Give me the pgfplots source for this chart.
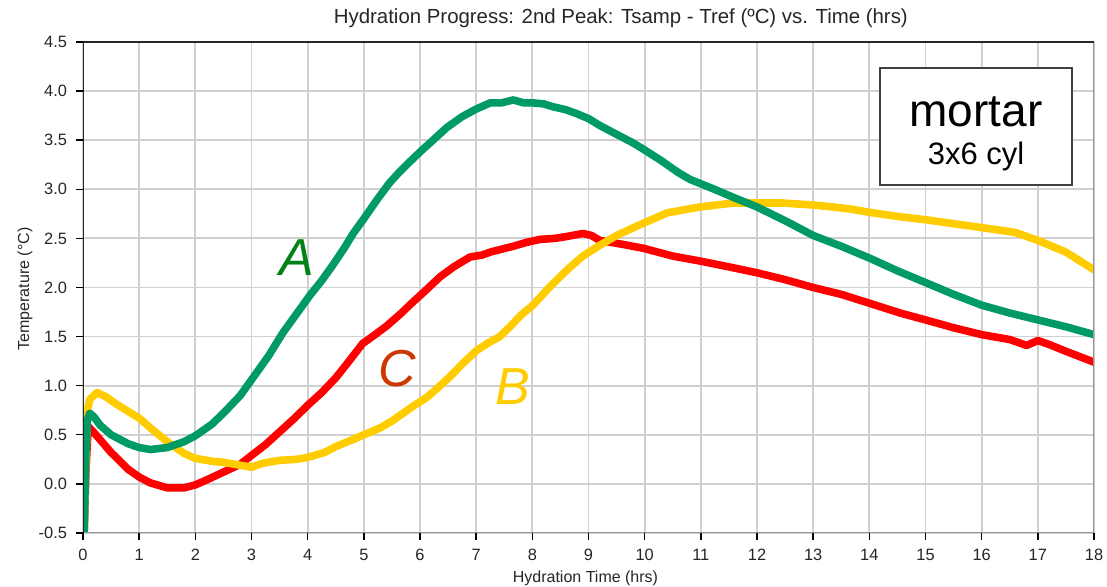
\documentclass[border=0pt]{standalone}
\usepackage{pgfplots}
\pgfplotsset{compat=1.18}
\usetikzlibrary{calc}
\usepackage{fontspec}
\setmainfont{Liberation Sans}

\definecolor{lineA}{RGB}{0,155,100}
\definecolor{lineB}{RGB}{255,204,0}
\definecolor{lineC}{RGB}{255,0,0}
\definecolor{labA}{RGB}{0,130,20}
\definecolor{labC}{RGB}{205,55,0}
\definecolor{gridgray}{RGB}{208,208,208}
\definecolor{framegray}{RGB}{150,150,150}

\begin{document}
\begin{tikzpicture}
\path[use as bounding box] (-41.5pt,-27pt) rectangle (512pt,266.5pt);
\begin{axis}[
  name=ax,
  scale only axis,
  width=505.5pt, height=245.5pt,
  xmin=0, xmax=18, ymin=-0.5, ymax=4.5,
  xtick={0,1,...,18},
  ytick={-0.5,0,0.5,...,4.5},
  /pgf/number format/assume math mode=true,
  yticklabel style={xshift=-1pt, /pgf/number format/fixed, /pgf/number format/fixed zerofill, /pgf/number format/precision=1},
  xticklabel style={yshift=-1pt},
  tick label style={font=\fontsize{8.2}{9}\selectfont, text=black!85},
  tick align=outside, tick pos=left,
  major tick length=3.5pt,
  tick style={black, line width=0.7pt},
  grid=major,
  major grid style={gridgray, line width=0.9pt},
  axis line style={draw=none},
  clip=true,
  xlabel={Hydration Time (hrs)},
  ylabel={Temperature (°C)},
  label style={font=\fontsize{8}{9}\selectfont, text=black!85},
  xlabel style={at={(axis description cs:0.497,-0.0916)}, anchor=center},
  ylabel style={at={(axis description cs:-0.0574,0.497)}, anchor=center, rotate=0},
  every axis plot/.append style={line width=3.8pt, line join=round, line cap=round},
]
% C
\addplot[lineC] coordinates {
(0.02,-0.5) (0.05,0.1) (0.08,0.45) (0.1,0.58) (0.2,0.52) (0.5,0.32) (0.8,0.15)
(1.0,0.07) (1.2,0.01) (1.5,-0.04) (1.8,-0.04) (2.0,-0.01) (2.2,0.04) (2.5,0.12)
(2.8,0.20) (3.0,0.29) (3.25,0.40) (3.5,0.53) (3.75,0.66) (4.0,0.80) (4.25,0.93)
(4.5,1.08) (4.75,1.26) (4.98,1.43) (5.2,1.52) (5.41,1.61) (5.65,1.73) (5.87,1.85)
(6.1,1.97) (6.36,2.11) (6.6,2.21) (6.89,2.31) (7.1,2.33) (7.25,2.36) (7.45,2.39)
(7.66,2.42) (7.9,2.46) (8.14,2.49) (8.4,2.50) (8.62,2.52) (8.9,2.55) (9.05,2.53)
(9.2,2.48) (9.6,2.44) (9.97,2.40) (10.5,2.32) (10.98,2.27) (11.5,2.21) (12.0,2.15)
(12.5,2.08) (13.0,2.00) (13.5,1.93) (14.0,1.84) (14.55,1.74) (15.0,1.67) (15.5,1.59)
(16.0,1.52) (16.5,1.47) (16.8,1.41) (17.0,1.46) (17.2,1.42) (17.5,1.35) (18.0,1.24)
};
% B
\addplot[lineB] coordinates {
(0.02,-0.5) (0.05,0.2) (0.08,0.75) (0.12,0.86) (0.25,0.93) (0.4,0.89) (0.6,0.81)
(0.8,0.74) (1.0,0.67) (1.2,0.57) (1.5,0.43) (1.8,0.31) (2.0,0.26) (2.3,0.23)
(2.5,0.22) (2.8,0.19) (3.0,0.17) (3.2,0.21) (3.5,0.24) (3.8,0.25) (4.0,0.27)
(4.3,0.32) (4.5,0.38) (4.8,0.45) (5.0,0.50) (5.29,0.57) (5.5,0.64) (5.7,0.72)
(5.9,0.80) (6.12,0.88) (6.3,0.97) (6.53,1.09) (6.75,1.22) (7.01,1.36) (7.2,1.43)
(7.42,1.50) (7.6,1.60) (7.8,1.72) (8.01,1.82) (8.3,2.00) (8.62,2.18) (8.9,2.32)
(9.2,2.43) (9.5,2.53) (9.92,2.64) (10.4,2.76) (10.98,2.82) (11.57,2.86) (12.0,2.86)
(12.46,2.86) (13.0,2.84) (13.35,2.82) (13.65,2.80) (14.06,2.76) (14.55,2.72)
(15.0,2.69) (15.5,2.65) (16.0,2.61) (16.6,2.56) (17.0,2.48) (17.5,2.36) (18.0,2.18)
};
% A
\addplot[lineA] coordinates {
(0.02,-0.5) (0.05,0.3) (0.08,0.65) (0.12,0.72) (0.2,0.68) (0.3,0.60) (0.5,0.50)
(0.8,0.41) (1.0,0.37) (1.2,0.35) (1.5,0.37) (1.8,0.43) (2.0,0.49) (2.3,0.61)
(2.5,0.72) (2.8,0.90) (3.0,1.06) (3.3,1.30) (3.56,1.54) (3.8,1.73) (4.04,1.92)
(4.25,2.07) (4.45,2.23) (4.65,2.40) (4.81,2.55) (5.0,2.70) (5.23,2.89) (5.45,3.06)
(5.64,3.18) (5.8,3.27) (6.0,3.38) (6.25,3.51) (6.48,3.63) (6.75,3.74) (7.01,3.82)
(7.25,3.88) (7.45,3.88) (7.66,3.91) (7.85,3.88) (8.01,3.88) (8.2,3.87) (8.37,3.84)
(8.6,3.81) (8.79,3.77) (9.0,3.72) (9.2,3.65) (9.5,3.56) (9.8,3.47) (10.0,3.40)
(10.3,3.29) (10.6,3.17) (10.81,3.10) (11.2,3.01) (11.57,2.92) (12.0,2.82) (12.5,2.68)
(13.0,2.53) (13.5,2.42) (14.0,2.30) (14.5,2.17) (15.0,2.05) (15.5,1.93) (16.0,1.82)
(16.5,1.74) (17.0,1.67) (17.5,1.60) (18.0,1.52)
};
% frame: dark top/left, grey bottom/right
\draw[framegray, line width=1pt] (rel axis cs:0,0) -- (rel axis cs:1,0) -- (rel axis cs:1,1);
\draw[black!85, line width=1pt] (rel axis cs:0,0) -- (rel axis cs:0,1) -- (rel axis cs:1,1);
% curve labels
\node[font=\fontsize{26}{28}\selectfont\itshape, text=labA] at (axis cs:3.8,2.3) {A};
\node[font=\fontsize{26}{28}\selectfont\itshape, text=labC] at (axis cs:5.6,1.17) {C};
\node[font=\fontsize{26}{28}\selectfont\itshape, text=lineB] at (axis cs:7.65,0.99) {B};
\end{axis}
% title
\node[font=\fontsize{10.2}{12}\selectfont, text=black!85] at ($(ax.north west)!0.532!(ax.north east)+(0,12pt)$) {Hydration Progress: 2nd Peak: Tsamp - Tref (ºC) vs. Time (hrs)};
% sample box
\node[draw=black!75, line width=0.6pt, fill=white, minimum width=96pt, minimum height=58.5pt, inner sep=0pt]
  (box) at ($(ax.south west)+(446.5pt,203.25pt)$) {};
\node[font=\fontsize{23}{25}\selectfont] at ($(box.center)+(0,7.3pt)$) {mortar};
\node[font=\fontsize{15.5}{17}\selectfont] at ($(box.center)+(0,-15.2pt)$) {3x6 cyl};
\end{tikzpicture}
\end{document}
